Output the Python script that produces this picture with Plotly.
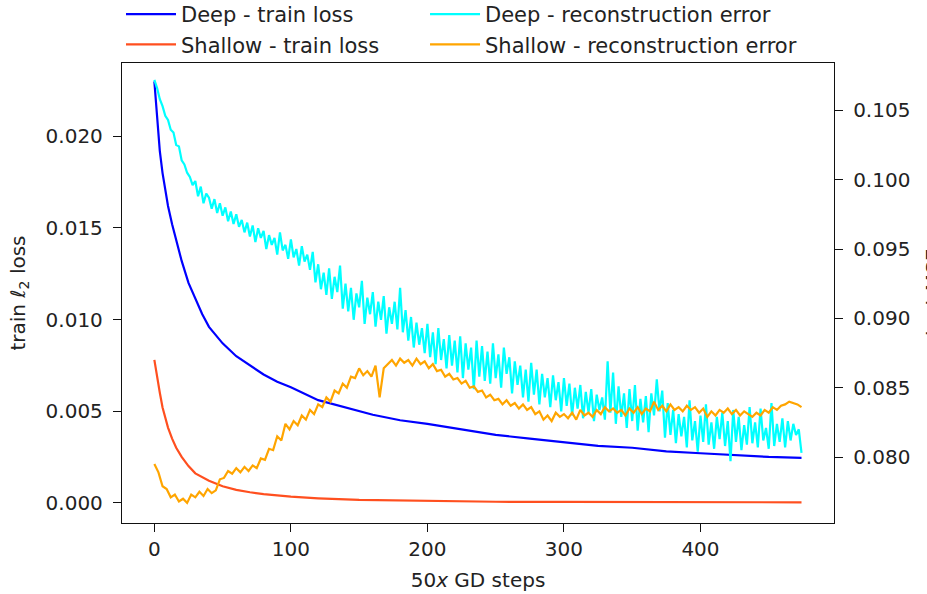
import plotly.graph_objects as go

# ---- data ----
smooth_steps = [0, 2, 4, 6, 8, 10, 13, 16, 20, 25, 30, 35, 40, 50, 60, 70, 80, 90, 100,
                120, 140, 160, 180, 200, 225, 250, 275, 300, 325, 350, 375, 400, 425, 450, 474]
deep_train_loss = [0.0230, 0.0210, 0.0192, 0.0180, 0.0170, 0.0162, 0.0152, 0.0143, 0.0132,
                   0.0120, 0.0111, 0.0103, 0.0096, 0.0087, 0.0080, 0.0075, 0.0070, 0.0066,
                   0.0063, 0.0056, 0.0052, 0.0048, 0.0045, 0.0043, 0.0040, 0.0037, 0.0035,
                   0.0033, 0.0031, 0.0030, 0.0028, 0.0027, 0.0026, 0.0025, 0.00245]

shallow_steps = [0, 2, 4, 6, 8, 10, 13, 16, 20, 25, 30, 35, 40, 50, 60, 70, 80, 100, 120,
                 150, 200, 250, 300, 350, 400, 474]
shallow_train_loss = [0.0078, 0.0068, 0.0060, 0.0052, 0.0046, 0.0041, 0.0035, 0.0030, 0.0025,
                      0.0020, 0.0016, 0.0014, 0.0012, 0.0009, 0.0007, 0.00057, 0.00047,
                      0.00033, 0.00024, 0.00015, 0.00008, 0.00005, 0.00004, 0.00003,
                      0.00002, 0.00002]

deep_stride = 2  # deep recon curve read every 2 steps
deep_recon_error = [
    0.1072, 0.1066, 0.1058, 0.1053, 0.1046, 0.1043, 0.1036, 0.1034, 0.1025, 0.1024,
    0.1014, 0.1011, 0.1005, 0.1002, 0.0996, 0.0999, 0.0988, 0.0995, 0.0983, 0.0990,
    0.0987, 0.0979, 0.0986, 0.0976, 0.0983, 0.0974, 0.0980, 0.0970, 0.0977, 0.0968,
    0.0975, 0.0966, 0.0971, 0.0962, 0.0969, 0.0959, 0.0967, 0.0955, 0.0965, 0.0958,
    0.0963, 0.0950, 0.0960, 0.0953, 0.0958, 0.0946, 0.0962, 0.0949, 0.0953, 0.0943,
    0.0957, 0.0944, 0.0950, 0.0938, 0.0952, 0.0941, 0.0946, 0.0935, 0.0948, 0.0926,
    0.0939, 0.0921, 0.0933, 0.0917, 0.0936, 0.0914, 0.0930, 0.0919, 0.0938, 0.0907,
    0.0925, 0.0905, 0.0922, 0.0899, 0.0918, 0.0908, 0.0927, 0.0896, 0.0915, 0.0903,
    0.0919, 0.0894, 0.0912, 0.0899, 0.0916, 0.0889, 0.0908, 0.0896, 0.0912, 0.0892,
    0.0922, 0.0890, 0.0906, 0.0884, 0.0901, 0.0879, 0.0897, 0.0881, 0.0893, 0.0875,
    0.0896, 0.0872, 0.0890, 0.0867, 0.0893, 0.0870, 0.0885, 0.0864, 0.0888, 0.0866,
    0.0884, 0.0861, 0.0887, 0.0857, 0.0882, 0.0863, 0.0879, 0.0849, 0.0884, 0.0858,
    0.0880, 0.0855, 0.0876, 0.0853, 0.0882, 0.0857, 0.0874, 0.0850, 0.0879, 0.0860,
    0.0872, 0.0846, 0.0869, 0.0852, 0.0866, 0.0843, 0.0863, 0.0840, 0.0868, 0.0845,
    0.0863, 0.0838, 0.0860, 0.0843, 0.0857, 0.0836, 0.0859, 0.0841, 0.0854, 0.0833,
    0.0857, 0.0837, 0.0853, 0.0830, 0.0850, 0.0835, 0.0852, 0.0828, 0.0847, 0.0832,
    0.0849, 0.0826, 0.0845, 0.0834, 0.0843, 0.0827, 0.0869, 0.0832, 0.0861, 0.0824,
    0.0851, 0.0829, 0.0846, 0.0821, 0.0849, 0.0826, 0.0852, 0.0819, 0.0842, 0.0825,
    0.0844, 0.0818, 0.0846, 0.0830, 0.0856, 0.0833, 0.0848, 0.0814, 0.0839, 0.0816,
    0.0834, 0.0810, 0.0831, 0.0815, 0.0829, 0.0807, 0.0841, 0.0812, 0.0826, 0.0804,
    0.0830, 0.0811, 0.0838, 0.0809, 0.0825, 0.0806, 0.0829, 0.0813, 0.0832, 0.0808,
    0.0826, 0.0797, 0.0834, 0.0811, 0.0829, 0.0805, 0.0823, 0.0809, 0.0836, 0.0810,
    0.0825, 0.0807, 0.0835, 0.0812, 0.0821, 0.0806, 0.0839, 0.0808, 0.0824, 0.0811,
    0.0828, 0.0807, 0.0826, 0.0812, 0.0824, 0.0816, 0.0820, 0.0803,
]
deep_recon_steps = list(range(0, deep_stride * len(deep_recon_error), deep_stride))

shallow_stride = 3  # shallow recon curve read every 3 steps
shallow_recon_error = [
    0.0795, 0.0789, 0.0779, 0.0777, 0.0771, 0.0773, 0.0768, 0.0770, 0.0767, 0.0773,
    0.0771, 0.0775, 0.0772, 0.0777, 0.0774, 0.0776, 0.0784, 0.0785, 0.0790, 0.0788,
    0.0792, 0.0789, 0.0793, 0.0790, 0.0794, 0.0792, 0.0799, 0.0798, 0.0806, 0.0805,
    0.0815, 0.0812, 0.0824, 0.0820, 0.0826, 0.0823, 0.0830, 0.0827, 0.0834, 0.0831,
    0.0838, 0.0836, 0.0843, 0.0840, 0.0848, 0.0846, 0.0853, 0.0850, 0.0858, 0.0857,
    0.0864, 0.0859, 0.0862, 0.0858, 0.0866, 0.0843, 0.0864, 0.0867, 0.0870, 0.0866,
    0.0871, 0.0868, 0.0870, 0.0866, 0.0871, 0.0867, 0.0869, 0.0864, 0.0867, 0.0862,
    0.0863, 0.0858, 0.0860, 0.0856, 0.0857, 0.0853, 0.0855, 0.0850, 0.0851, 0.0847,
    0.0848, 0.0843, 0.0845, 0.0841, 0.0842, 0.0838, 0.0841, 0.0837, 0.0839, 0.0835,
    0.0838, 0.0834, 0.0836, 0.0831, 0.0833, 0.0827, 0.0830, 0.0826, 0.0832, 0.0829,
    0.0831, 0.0828, 0.0832, 0.0827, 0.0834, 0.0830, 0.0832, 0.0829, 0.0834, 0.0831,
    0.0836, 0.0833, 0.0835, 0.0832, 0.0834, 0.0830, 0.0835, 0.0832, 0.0836, 0.0831,
    0.0835, 0.0833, 0.0840, 0.0834, 0.0837, 0.0833, 0.0838, 0.0834, 0.0836, 0.0833,
    0.0837, 0.0834, 0.0836, 0.0832, 0.0835, 0.0829, 0.0833, 0.0830, 0.0834, 0.0832,
    0.0835, 0.0831, 0.0834, 0.0830, 0.0833, 0.0831, 0.0829, 0.0832, 0.0830, 0.0834,
    0.0832, 0.0836, 0.0834, 0.0837, 0.0838, 0.0840, 0.0839, 0.0838, 0.0836,
]
shallow_recon_steps = list(range(0, shallow_stride * len(shallow_recon_error), shallow_stride))

left_ticks = [0.000, 0.005, 0.010, 0.015, 0.020]
right_ticks = [0.080, 0.085, 0.090, 0.095, 0.100, 0.105]
x_ticks = [0, 100, 200, 300, 400]

# ---- figure ----
FONT = dict(family="DejaVu Sans", size=20, color="#222222")
LEG_FONT = dict(family="DejaVu Sans", size=21, color="#222222")
LW = 2.2

fig = go.Figure()
fig.add_trace(go.Scatter(x=smooth_steps, y=deep_train_loss, mode="lines",
                         name="Deep - train loss", line=dict(color="#0000ff", width=LW),
                         legend="legend"))
fig.add_trace(go.Scatter(x=shallow_steps, y=shallow_train_loss, mode="lines",
                         name="Shallow - train loss", line=dict(color="#ff4f1f", width=LW),
                         legend="legend"))
fig.add_trace(go.Scatter(x=deep_recon_steps, y=deep_recon_error, mode="lines", yaxis="y2",
                         name="Deep - reconstruction error",
                         line=dict(color="#00ffff", width=LW), legend="legend2"))
fig.add_trace(go.Scatter(x=shallow_recon_steps, y=shallow_recon_error,
                         mode="lines", yaxis="y2",
                         name="Shallow - reconstruction error",
                         line=dict(color="#ffa500", width=LW), legend="legend2"))

axis_common = dict(showgrid=False, zeroline=False, showline=True, linecolor="#111111",
                   linewidth=1.3, ticks="outside", ticklen=8, tickwidth=1.2,
                   tickcolor="#111111", tickfont=FONT, automargin=False)

legend_common = dict(orientation="v", xanchor="left", yanchor="top", y=1.150,
                     font=LEG_FONT, bgcolor="rgba(0,0,0,0)", itemwidth=50,
                     tracegroupgap=0)

fig.update_layout(
    width=927, height=594,
    margin=dict(l=122, r=93, t=63, b=71, autoexpand=False),
    paper_bgcolor="white", plot_bgcolor="white",
    font=FONT,
    showlegend=True,
    legend=dict(legend_common, x=-0.0014),
    legend2=dict(legend_common, x=0.4256),
    xaxis=dict(axis_common, range=[-23.7, 497.8], tickvals=x_ticks,
               mirror=True,
               title=dict(text="50<i>x</i> GD steps", font=FONT, standoff=12)),
    yaxis=dict(axis_common, range=[-0.00111, 0.02401], tickvals=left_ticks,
               tickformat=".3f", ticklabelstandoff=6,
               title=dict(text="train <i>ℓ</i><sub>2</sub> loss", font=FONT, standoff=14)),
    yaxis2=dict(axis_common, range=[0.07525, 0.10841], tickvals=right_ticks,
                tickformat=".3f", overlaying="y", side="right", ticklabelstandoff=6),
    annotations=[dict(text="test MSE", textangle=-90, xref="paper", yref="paper",
                      x=1.1195, y=0.5, xanchor="left", yanchor="middle",
                      showarrow=False, font=FONT)],
)

fig.write_html("out.html")
